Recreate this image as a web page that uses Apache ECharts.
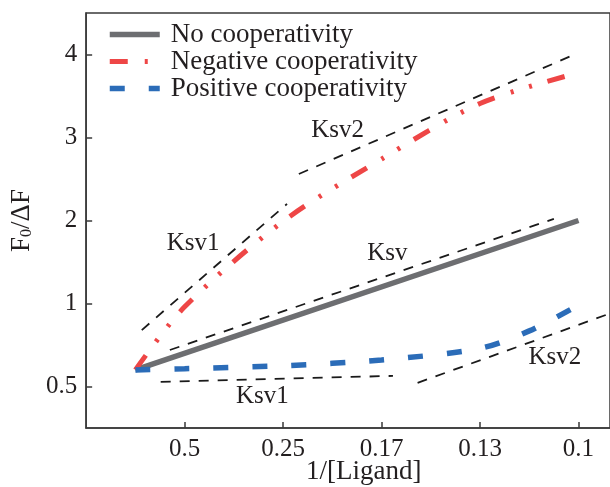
<!DOCTYPE html>
<html>
<head>
<meta charset="utf-8">
<script src="https://cdn.jsdelivr.net/npm/echarts@6/dist/echarts.min.js"></script>
<style>html,body{margin:0;padding:0;background:#fff}#c{width:610px;height:487px}</style>
</head>
<body>
<div id="c"></div>
<script>
// ---- data ----
const xTickValues = [1, 2, 3, 4, 5];
const xTickLabels = ['0.5', '0.25', '0.17', '0.13', '0.1'];
const yTickValues = [0, 1, 2, 3, 4];
const yTickLabels = ['0.5', '1', '2', '3', '4'];

const seriesNames = ['No cooperativity', 'Negative cooperativity', 'Positive cooperativity'];
const noCoop = [[0.5, 0.2], [5, 2.0]];
const negCoop = [[0.5, 0.2], [1, 0.96], [2, 1.99], [3, 2.74], [4, 3.41], [5, 3.78]];
const posCoop = [[0.5, 0.2], [1, 0.215], [2, 0.25], [3, 0.32], [4, 0.46], [4.5, 0.67], [5, 0.98]];

// fitted Stern-Volmer guide lines (dashed)
const negKsv1 = [[0.565, 0.68], [2.04, 2.2]];
const negKsv2 = [[2.16, 2.56], [4.92, 3.98]];
const noKsv = [[0.85, 0.44], [4.75, 2.02]];
const posKsv1 = [[0.757, 0.056], [3.116, 0.128]];
const posKsv2 = [[3.366, 0.044], [5.32, 0.88]];

const annotTexts = ['Ksv1', 'Ksv2', 'Ksv', 'Ksv1', 'Ksv2'];
const annotPos = [[1.087, 1.72], [2.553, 3.08], [3.06, 1.6], [1.79, -0.115], [4.76, 0.353]];

// ---- chart ----
const FONT = 'Liberation Serif';
const INK = '#231f20';
const GREY = '#6d6e71', RED = '#ee4646', BLUE = '#2b6cb8';
const chart = echarts.init(document.getElementById('c'), null, {renderer: 'canvas'});

function guide(data) {
  return {
    type: 'line', data: data, symbol: 'none', silent: true, z: 1,
    lineStyle: {color: '#1a1a1a', width: 1.8, type: [10, 9]}
  };
}

const option = {
  animation: false,
  backgroundColor: '#ffffff',
  grid: {left: 82, top: 13, right: -2, bottom: 59, show: true, borderColor: '#3a3a3a', borderWidth: 1.5},
  legend: {
    orient: 'vertical', left: 107, top: 21, padding: 0, itemWidth: 50, itemHeight: 14, itemGap: 0,
    data: [
      {name: seriesNames[0], lineStyle: {width: 5.5}},
      {name: seriesNames[1], lineStyle: {width: 5}},
      {name: seriesNames[2], lineStyle: {width: 5.5}}
    ],
    itemStyle: {opacity: 0},
    textStyle: {fontFamily: FONT, fontSize: 27, color: INK, lineHeight: 27, padding: [0, 0, 0, 6]}
  },
  xAxis: {
    type: 'value', min: 0, max: 5.32,
    axisLine: {show: true, onZero: false, lineStyle: {color: '#3a3a3a', width: 1.5}},
    axisTick: {show: true, inside: true, length: 6, customValues: xTickValues, lineStyle: {color: '#3a3a3a', width: 1.5}},
    axisLabel: {
      customValues: xTickValues, margin: 9,
      fontFamily: FONT, fontSize: 25, color: INK,
      formatter: v => { const i = xTickValues.indexOf(v); return i >= 0 ? xTickLabels[i] : ''; }
    },
    splitLine: {show: false}
  },
  yAxis: {
    type: 'value', min: -0.5, max: 4.5,
    name: '{n|F}{s|0}{n|/ΔF}', nameLocation: 'middle', nameGap: 38,
    nameTextStyle: {
      rich: {
        n: {fontFamily: FONT, fontSize: 27, color: INK},
        s: {fontFamily: FONT, fontSize: 16, color: INK, padding: [10, 0, 0, 0]}
      }
    },
    axisLine: {show: true, onZero: false, lineStyle: {color: '#3a3a3a', width: 1.5}},
    axisTick: {show: true, inside: true, length: 6, customValues: yTickValues, lineStyle: {color: '#3a3a3a', width: 1.5}},
    axisLabel: {
      customValues: yTickValues, margin: 9,
      fontFamily: FONT, fontSize: 25, color: INK,
      formatter: v => { const i = yTickValues.indexOf(v); return i >= 0 ? yTickLabels[i] : ''; }
    },
    splitLine: {show: false}
  },
  graphic: [{
    type: 'text', left: 306, top: 458,
    style: {text: '1/[Ligand]', font: '27px "Liberation Serif"', fill: INK}
  }],
  series: [
    guide(negKsv1), guide(negKsv2), guide(noKsv), guide(posKsv1), guide(posKsv2),
    {
      name: seriesNames[0], type: 'line', data: noCoop, symbol: 'none', z: 3,
      lineStyle: {color: GREY, width: 5.5, cap: 'butt'}, itemStyle: {color: GREY}
    },
    {
      name: seriesNames[1], type: 'line', data: negCoop, symbol: 'none', smooth: 0.3, z: 3,
      lineStyle: {color: RED, width: 5, type: [18, 17, 3, 16, 3, 16], cap: 'butt'}, itemStyle: {color: RED}
    },
    {
      name: seriesNames[2], type: 'line', data: posCoop, symbol: 'none', smooth: 0.3, z: 3,
      lineStyle: {color: BLUE, width: 5.5, type: [15, 24], cap: 'butt'}, itemStyle: {color: BLUE}
    },
    {
      type: 'scatter', silent: true, symbolSize: 0, z: 4,
      itemStyle: {opacity: 1},
      data: annotPos.map((p, i) => ({value: p, label: {formatter: annotTexts[i]}})),
      label: {show: true, position: 'inside', fontFamily: FONT, fontSize: 25, color: INK, opacity: 1}
    }
  ]
};
chart.setOption(option);
</script>
</body>
</html>
